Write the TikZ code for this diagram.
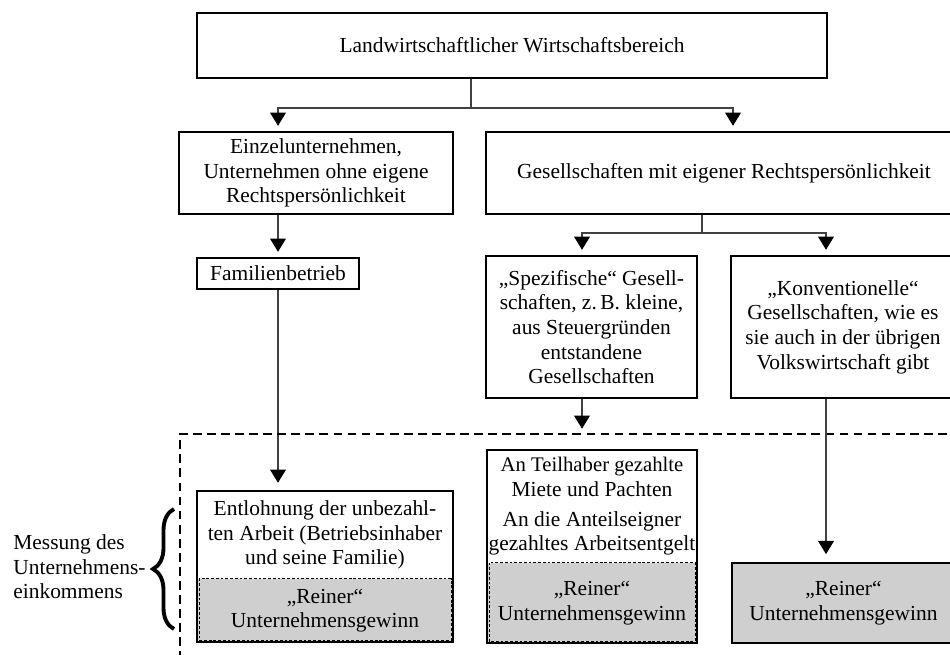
\documentclass[tikz,border=0pt]{standalone}
\usepackage{fontspec}
\setmainfont{Liberation Serif}
\usetikzlibrary{arrows.meta}
\usetikzlibrary{decorations.pathreplacing}
\definecolor{gewinn}{gray}{0.81}

\begin{document}
\begin{tikzpicture}[x=0.02cm,y=-0.02cm,font=\fontsize{12.2}{14}\selectfont,
  box/.style={draw,line width=1.1pt,align=center,inner sep=0pt},
  part/.style={align=center,inner sep=0pt},
  gewinnbox/.style={fill=gewinn,align=center,inner sep=0pt},
  innen/.style={line width=0.5pt,dash pattern=on 1.6pt off 1.1pt},
  verb/.style={line width=0.6pt,black!75},
  pfeil/.style={verb,-{Triangle[width=9pt,length=7.5pt,color=black]},shorten >=3pt},
  rahmen/.style={line width=1.1pt,dash pattern=on 5pt off 3pt}]
 \useasboundingbox (0,0) rectangle (950,655);
 \node[box,minimum width=12.6cm,minimum height=1.3cm] (lw) at (512,45.5) {Landwirtschaftlicher Wirtschaftsbereich};
 \node[box,minimum width=5.48cm,minimum height=1.64cm] (einzel) at (316,173) {Einzelunternehmen,\\Unternehmen ohne eigene\\Rechtspersönlichkeit};
 \node[box,minimum width=9.52cm,minimum height=1.64cm] (gesell) at (724,173) {Gesellschaften mit eigener Rechtspersönlichkeit};
 \node[box,minimum width=3.24cm,minimum height=0.62cm] (famil) at (278,273.5) {Familienbetrieb};
 \node[box,minimum width=4.22cm,minimum height=2.84cm] (spez) at (591.5,327) {„Spezifische“ Gesell-\\schaften, z.\,B. kleine,\\aus Steuergründen\\entstandene\\Gesellschaften};
 \node[box,minimum width=4.48cm,minimum height=2.84cm] (konv) at (843,327) {„Konventionelle“\\Gesellschaften, wie es\\sie auch in der übrigen\\Volkswirtschaft gibt};
 \node[part,minimum width=5.12cm,minimum height=1.76cm] (entl) at (325,535) {Entlohnung der unbezahl-\\ten Arbeit (Betriebsinhaber\\und seine Familie)};
 \node[gewinnbox,minimum width=5.12cm,minimum height=1.26cm] (entlg) at (325,610.5) {„Reiner“\\Unternehmensgewinn};
 \draw[innen] ([xshift=1.3pt]entlg.north west) rectangle ([xshift=-1.3pt,yshift=1.3pt]entlg.south east);
 \draw[line width=1.1pt] (entl.north west) rectangle (entlg.south east);
 \node[part,minimum width=4.2cm,minimum height=2.26cm] (teil) at (592,506.5) {\fontsize{11.8}{14}\selectfont An Teilhaber gezahlte\\Miete und Pachten\\[3pt]An die Anteilseigner\\gezahltes Arbeitsentgelt};
 \node[gewinnbox,minimum width=4.2cm,minimum height=1.6cm] (teilg) at (592,603) {„Reiner“\\Unternehmensgewinn};
 \draw[innen] ([xshift=1.3pt]teilg.north west) rectangle ([xshift=-1.3pt,yshift=1.3pt]teilg.south east);
 \draw[line width=1.1pt] (teil.north west) rectangle (teilg.south east);
 \node[box,fill=gewinn,minimum width=4.46cm,minimum height=1.6cm] (rg) at (843.5,603) {„Reiner“\\Unternehmensgewinn};
 \node[anchor=west,align=left,inner sep=0pt] (mess) at (13,567) {Messung des\\Unternehmens-\\einkommens};
 \coordinate (j1) at (471,108);
 \coordinate (j2) at (702,233);
 \coordinate (xg) at (733,0);
 \coordinate (xs) at (582,0);
 \coordinate (xk) at (826,0);
 \coordinate (fr) at (180,434);
 \coordinate (fru) at (180,660);
 \coordinate (fre) at (960,434);
 \coordinate (bu) at (174,629);
 \coordinate (bo) at (174,509);
 \draw[verb] (lw.south -| j1) -- (j1);
 \draw[pfeil] (j1) -| (einzel.north -| famil);
 \draw[pfeil] (j1) -| (gesell.north -| xg);
 \draw[pfeil] (einzel.south -| famil) -- (famil.north);
 \draw[pfeil,shorten >=4.5pt] (famil.south) -- (entl.north -| famil);
 \draw[verb] (gesell.south -| j2) -- (j2);
 \draw[pfeil] (j2) -| (spez.north -| xs);
 \draw[pfeil] (j2) -| (konv.north -| xk);
 \draw[rahmen] (fru) -- (fr) -- (fre);
 \draw[pfeil] (spez.south -| xs) -- (fr -| xs);
 \draw[pfeil,shorten >=4.5pt] (konv.south -| xk) -- (rg.north -| xk);
 \draw[decorate,decoration={brace,amplitude=0.42cm},line width=2.2pt] (bu) -- (bo);
\end{tikzpicture}
\end{document}
